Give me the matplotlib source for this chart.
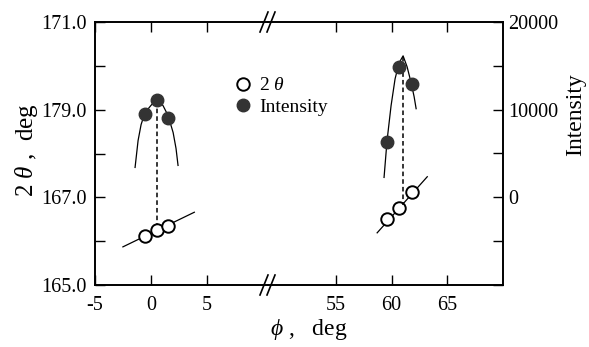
"""Broken-axis plot of 2theta and intensity vs phi (scan recreation)."""

import matplotlib
matplotlib.use("Agg")
import matplotlib.pyplot as plt
from matplotlib.lines import Line2D

plt.rcParams["font.family"] = "Liberation Serif"
plt.rcParams["mathtext.fontset"] = "custom"
plt.rcParams["mathtext.rm"] = "Liberation Serif"
plt.rcParams["mathtext.it"] = "Liberation Serif:italic"
plt.rcParams["axes.unicode_minus"] = False

# --- data ---
# left group (phi near 0)
phi_l = [-0.55, 0.55, 1.55]
tth_l = [166.12, 166.26, 166.35]
int_l = [9550, 11140, 9090]
fit_tth_l_x = [-2.5, 3.9]
fit_tth_l_y = [165.87, 166.66]
fit_int_l_x = [-1.41, -1.14, -0.87, -0.52, 0.07, 0.56, 1.10, 1.55, 2.0, 2.26, 2.44]
fit_int_l_y = [3410, 6480, 8300, 9660, 10570, 11140, 10450, 9320, 7390, 5570, 3640]
peak_l = 0.54

# right group (phi near 60)
phi_r = [59.62, 60.67, 61.84]
tth_r = [166.51, 166.76, 167.13]
int_r = [6360, 14890, 12950]
fit_tth_r_x = [58.7, 63.2]
fit_tth_r_y = [166.19, 167.47]
fit_int_r_x = [59.32, 59.59, 59.95, 60.31, 60.67, 61.03, 61.39, 61.75, 62.02, 62.20]
fit_int_r_y = [2270, 6480, 10450, 13520, 15340, 16140, 14890, 13070, 11480, 10110]
peak_r = 61.03

tth_ticks = [165, 166, 167, 168, 169, 170, 171]
tth_labels = ["165.0", "", "167.0", "", "179.0", "", "171.0"]
int_ticks = [-10000, -5000, 0, 5000, 10000, 15000, 20000]
int_labels = ["", "", "0", "", "10000", "", "20000"]

W, H = 589, 347
fig = plt.figure(figsize=(W / 100, H / 100), dpi=100)
x0, xb, x1 = 95 / W, 268 / W, 503 / W
y0, y1 = 1 - 285 / H, 1 - 22 / H
axl = fig.add_axes([x0, y0, xb - x0, y1 - y0])
axr = fig.add_axes([xb, y0, x1 - xb, y1 - y0])
axl2 = axl.twinx()
axr2 = axr.twinx()

axl.set_xlim(-5, 10.5)
axr.set_xlim(48.9, 70)
for a in (axl, axr):
    a.set_ylim(165, 171)
for a in (axl2, axr2):
    a.set_ylim(-10000, 20000)

fs = 14.5
tick_kw = dict(direction="in", length=7, width=1.0, labelsize=fs)
axl.set_yticks(tth_ticks)
axl.set_yticklabels(tth_labels)
axl.tick_params(axis="y", left=True, right=False, pad=6, **tick_kw)
axl.set_xticks([-5, 0, 5])
axl.tick_params(axis="x", top=True, bottom=True, pad=8, **tick_kw)
axr.set_yticks([])
axr.set_xticks([55, 60, 65])
axr.tick_params(axis="x", top=True, bottom=True, pad=8, **tick_kw)
axl2.set_yticks([])
axr2.set_yticks(int_ticks)
axr2.set_yticklabels(int_labels)
axr2.tick_params(axis="y", right=True, left=False, pad=4, **tick_kw)

for a in (axl, axl2):
    a.spines["right"].set_visible(False)
for a in (axr, axr2):
    a.spines["left"].set_visible(False)
for a in (axl, axr, axl2, axr2):
    for s in a.spines.values():
        s.set_linewidth(1.2)
    a.patch.set_visible(False)

ms = 9
open_kw = dict(ls="none", marker="o", ms=ms, mfc="white", mec="black", mew=1.4, zorder=5)
fill_kw = dict(ls="none", marker="o", ms=ms, mfc="#333333", mec="#333333", zorder=5)
lw = 0.9

# 2theta data
axl.plot(fit_tth_l_x, fit_tth_l_y, color="black", lw=lw)
axl.plot(phi_l, tth_l, **open_kw)
axr.plot(fit_tth_r_x, fit_tth_r_y, color="black", lw=lw)
axr.plot(phi_r, tth_r, **open_kw)

# intensity data
axl2.plot(fit_int_l_x, fit_int_l_y, color="black", lw=lw)
axl2.plot(phi_l, int_l, **fill_kw)
axr2.plot(fit_int_r_x, fit_int_r_y, color="black", lw=lw)
axr2.plot(phi_r, int_r, **fill_kw)

# dashed peak markers, from intensity peak down to the 2theta line
axl2.plot([peak_l, peak_l], [11000, -3050], color="black", lw=1.1, ls=(0, (3, 2)))
axr2.plot([peak_r, peak_r], [16000, -820], color="black", lw=1.1, ls=(0, (3, 2)))

# break marks
for yy in (y0, y1):
    for dx in (-4, 3):
        xa = (268 + dx - 4) / W
        xc = (268 + dx + 4) / W
        fig.add_artist(Line2D([xa, xc], [yy - 10 / H, yy + 10 / H],
                              color="black", lw=1.2, transform=fig.transFigure))

# legend
h_open = Line2D([], [], **open_kw)
h_fill = Line2D([], [], **fill_kw)
fig.legend([h_open, h_fill], ["2 $\\theta$", "Intensity"], loc="upper left",
           bbox_to_anchor=(225 / W, 1 - 67 / H), frameon=False, fontsize=14,
           handlelength=0.9, handletextpad=0.35, labelspacing=0.2, borderpad=0)

fig.text(27 / W, 1 - 150 / H, "2 $\\theta$ ,  deg", rotation=90, ha="center",
         va="center", fontsize=18)
fig.text(576 / W, 1 - 115 / H, "Intensity", rotation=90, ha="center",
         va="center", fontsize=17)
fig.text(309 / W, 1 - 330 / H, "$\\phi$ ,   deg", ha="center", va="center",
         fontsize=17)

fig.savefig("out.png", dpi=100)
